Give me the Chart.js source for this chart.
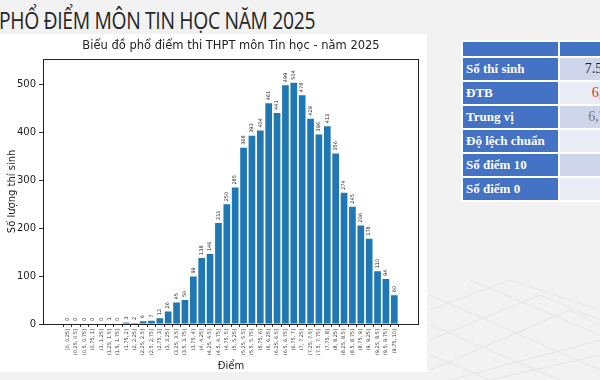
<!DOCTYPE html>
<html>
<head>
<meta charset="utf-8">
<script src="https://cdn.jsdelivr.net/npm/chart.js@4.4.1/dist/chart.umd.min.js"></script>
<style>
  html, body { margin: 0; padding: 0; }
  body { width: 600px; height: 380px; overflow: hidden; position: relative; background: #f2f2f2; font-family: "Open Sans", sans-serif; }
  #heading { position: absolute; left: -1px; top: 4px; font-size: 23px; color: #262626; white-space: nowrap; letter-spacing: -0.4px;
             transform: scaleX(0.84); transform-origin: left top; }
  #panel { position: absolute; left: 0; top: 34px; width: 427px; height: 338px; background: #fff; }
  #c { position: absolute; left: 0; top: 34px; }
  #stats { position: absolute; left: 461px; top: 40px; width: 179px; table-layout: fixed; border-collapse: separate; border-spacing: 2px; background: #fff;
           font-family: "Liberation Serif", serif; font-weight: bold; font-size: 13px; }
  #stats td { padding: 0 0 0 3px; height: 22px; white-space: nowrap; overflow: hidden; }
  #stats tr.head td { height: 14px; background: #4472c4; }
  #stats td.k { width: 92px; background: #4472c4; color: #fff; }
  #stats td.v { width: 75px; text-align: center; font-weight: normal; color: #222; font-size: 14px; }
  #stats tr.odd td.v { background: #cfd5ea; }
  #stats tr.even td.v { background: #e9ebf5; }
  #deco { position: absolute; left: 430px; top: 250px; }
</style>
</head>
<body>
<div id="heading">PHỔ ĐIỂM MÔN TIN HỌC NĂM 2025</div>
<div id="panel"></div>

<svg id="deco" width="170" height="130">
  <g stroke="#e4e4e4" stroke-width="1" fill="none">
    <path d="M0 60 L80 30 L170 60"/>
    <path d="M0 90 L110 45 L170 70"/>
    <path d="M0 120 L140 60 L170 75"/>
    <path d="M20 130 L170 90"/>
    <path d="M60 130 L170 105"/>
    <path d="M0 45 L170 120"/>
    <path d="M0 75 L130 130"/>
    <path d="M40 30 L170 85"/>
    <path d="M0 105 L60 130"/>
  </g>
</svg>

<canvas id="c" width="427" height="340"></canvas>

<table id="stats">
  <tr class="head"><td class="k"></td><td class="v"></td></tr>
  <tr class="odd"><td class="k">Số thí sinh</td><td class="v">7.590</td></tr>
  <tr class="even"><td class="k">ĐTB</td><td class="v" style="color:#e03030">6,8</td></tr>
  <tr class="odd"><td class="k">Trung vị</td><td class="v" style="color:#777">6,75</td></tr>
  <tr class="even"><td class="k">Độ lệch chuẩn</td><td class="v"></td></tr>
  <tr class="odd"><td class="k">Số điểm 10</td><td class="v"></td></tr>
  <tr class="even"><td class="k">Số điểm 0</td><td class="v"></td></tr>
</table>

<script>
// score bins (tick labels on the x axis)
const binLabels = ['[0, 0.25]', '(0.25, 0.5]', '(0.5, 0.75]', '(0.75, 1]', '(1, 1.25]', '(1.25, 1.5]', '(1.5, 1.75]', '(1.75, 2]',
  '(2, 2.25]', '(2.25, 2.5]', '(2.5, 2.75]', '(2.75, 3]', '(3, 3.25]', '(3.25, 3.5]', '(3.5, 3.75]', '(3.75, 4]',
  '(4, 4.25]', '(4.25, 4.5]', '(4.5, 4.75]', '(4.75, 5]', '(5, 5.25]', '(5.25, 5.5]', '(5.5, 5.75]', '(5.75, 6]',
  '(6, 6.25]', '(6.25, 6.5]', '(6.5, 6.75]', '(6.75, 7]', '(7, 7.25]', '(7.25, 7.5]', '(7.5, 7.75]', '(7.75, 8]',
  '(8, 8.25]', '(8.25, 8.5]', '(8.5, 8.75]', '(8.75, 9]', '(9, 9.25]', '(9.25, 9.5]', '(9.5, 9.75]', '(9.75, 10]'];

// number of candidates per bin
const counts = [0, 0, 0, 0, 0, 1, 0, 3, 2, 6, 7, 12, 26, 45, 50, 99, 138, 146, 211, 250,
  285, 368, 393, 404, 461, 441, 499, 504, 478, 429, 396, 413, 356, 274, 245, 206, 178, 110, 94, 60];

const yTicks = [0, 100, 200, 300, 400, 500];

Chart.defaults.font.family = '"DejaVu Sans", sans-serif';

// value labels on top of bars + box around the plot (matplotlib style)
const barLabels = {
  id: 'barLabels',
  afterDatasetsDraw(chart) {
    const { ctx, chartArea: a } = chart;
    const meta = chart.getDatasetMeta(0);
    ctx.save();
    ctx.font = '5px "DejaVu Sans"';
    ctx.fillStyle = '#222';
    ctx.textAlign = 'left';
    ctx.textBaseline = 'middle';
    meta.data.forEach((bar, i) => {
      ctx.save();
      ctx.translate(bar.x, bar.y - 3);
      ctx.rotate(-Math.PI / 2);
      ctx.fillText(String(counts[i]), 0, 0);
      ctx.restore();
    });
    ctx.strokeStyle = '#222';
    ctx.lineWidth = 1;
    ctx.strokeRect(Math.round(a.left) + 0.5, Math.round(a.top) + 0.5, Math.round(a.width) - 1, Math.round(a.height));
    ctx.restore();
  }
};

new Chart(document.getElementById('c'), {
  type: 'bar',
  data: {
    datasets: [{
      data: counts.map((v, i) => ({ x: i, y: v })),
      backgroundColor: '#1f77b4',
      barPercentage: 0.8,
      categoryPercentage: 1
    }]
  },
  options: {
    responsive: false,
    animation: false,
    layout: { padding: { left: 0, right: 8, top: 0, bottom: 0 } },
    plugins: {
      legend: { display: false },
      tooltip: { enabled: false },
      title: {
        display: true,
        fullSize: false,
        text: 'Biểu đồ phổ điểm thi THPT môn Tin học - năm 2025',
        color: '#222',
        font: { size: 11.5, weight: 'normal' },
        padding: { top: 5, bottom: 6 }
      }
    },
    scales: {
      x: {
        type: 'linear',
        min: -2.39,
        max: 41.39,
        afterBuildTicks: axis => { axis.ticks = binLabels.map((_, i) => ({ value: i })); },
        afterFit: s => { s.height = 50; },
        ticks: { autoSkip: false, minRotation: 90, maxRotation: 90, font: { size: 5 }, color: '#333', padding: 2,
                 callback: v => binLabels[v] },
        grid: { drawOnChartArea: false, drawTicks: true, tickLength: 3, color: '#333' },
        border: { display: false },
        title: { display: true, text: 'Điểm', color: '#222', font: { size: 10 }, padding: { top: 2, bottom: 2 } }
      },
      y: {
        min: 0,
        max: 554,
        afterBuildTicks: axis => { axis.ticks = yTicks.map(v => ({ value: v })); },
        afterFit: s => { s.width = 43; },
        ticks: { font: { size: 10 }, color: '#222', padding: 3 },
        grid: { drawOnChartArea: false, drawTicks: true, tickLength: 4, color: '#333' },
        border: { display: false },
        title: { display: true, text: 'Số lượng thí sinh', color: '#222', font: { size: 10 }, padding: { top: 6, bottom: 0 } }
      }
    }
  },
  plugins: [barLabels]
});
</script>
</body>
</html>
